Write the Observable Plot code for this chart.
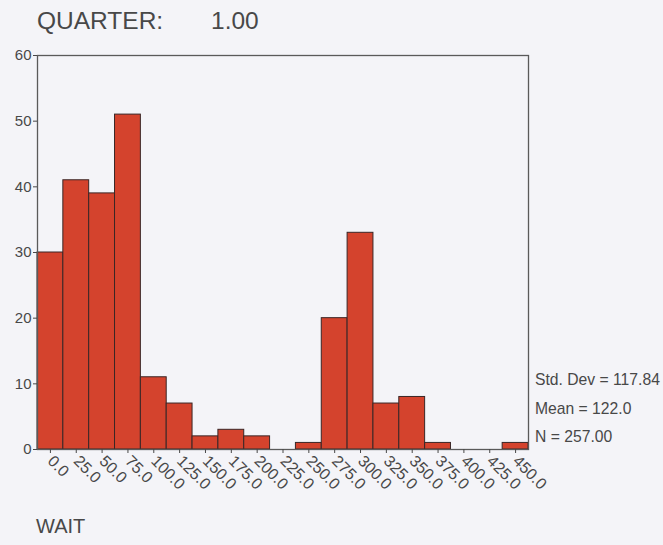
<!DOCTYPE html>
<html>
<head>
<meta charset="utf-8">
<script src="https://cdn.jsdelivr.net/npm/d3@7"></script>
<script src="https://cdn.jsdelivr.net/npm/@observablehq/plot@0.6"></script>
<style>
  html, body { margin: 0; padding: 0; background: #f4f4f8; }
  #wrap { position: relative; width: 663px; height: 545px; overflow: hidden; font-family: "Liberation Sans", Arial, sans-serif; }
  .t { position: absolute; white-space: nowrap; color: #484848; line-height: 1; }
  svg { position: absolute; left: 0; top: 0; }
  g[aria-label="y-axis tick label"], g[aria-label="y-axis tick label"] text { font-size: 15px !important; }
</style>
</head>
<body>
<div id="wrap">
  <div class="t" style="left:37px; top:9px; font-size:24.5px;">QUARTER:</div>
  <div class="t" style="left:211px; top:9px; font-size:24.5px;">1.00</div>
  <div class="t" style="left:36px; top:516px; font-size:20px;">WAIT</div>
  <div class="t" style="left:535px; top:372px; font-size:15.7px;">Std. Dev = 117.84</div>
  <div class="t" style="left:535px; top:401px; font-size:15.7px;">Mean = 122.0</div>
  <div class="t" style="left:535px; top:429px; font-size:15.7px;">N = 257.00</div>
</div>
<script>
const binLabels = ["0.0","25.0","50.0","75.0","100.0","125.0","150.0","175.0","200.0","225.0","250.0","275.0","300.0","325.0","350.0","375.0","400.0","425.0","450.0"];
const counts = [30,41,39,51,11,7,2,3,2,0,1,20,33,7,8,1,0,0,1];
const yTicks = [0,10,20,30,40,50,60];

const data = binLabels.map((b, i) => ({bin: b, count: counts[i]}));

const chart = Plot.plot({
  width: 663,
  height: 545,
  marginLeft: 37,
  marginRight: 135,
  marginTop: 55,
  marginBottom: 96,
  style: {background: "transparent", fontFamily: "Liberation Sans, Arial, sans-serif", color: "#484848", overflow: "visible"},
  x: {domain: binLabels, padding: 0, round: false, label: null, axis: null},
  y: {domain: [0, 60], label: null, axis: null},
  marks: [
    Plot.barY(data, {x: "bin", y: "count", fill: "#d4432d", stroke: "#3a2626", strokeWidth: 1, inset: 0}),
    Plot.frame({stroke: "#5a5a5a", strokeWidth: 1.3}),
    Plot.axisX({tickRotate: 45, tickSize: 4, tickPadding: 5, fontSize: 16, stroke: "#484848", fill: "#484848"}),
    Plot.axisY({ticks: yTicks, tickSize: 4, tickPadding: 2, fontSize: 15, stroke: "#484848", fill: "#484848"})
  ]
});
document.getElementById("wrap").appendChild(chart);
</script>
</body>
</html>
